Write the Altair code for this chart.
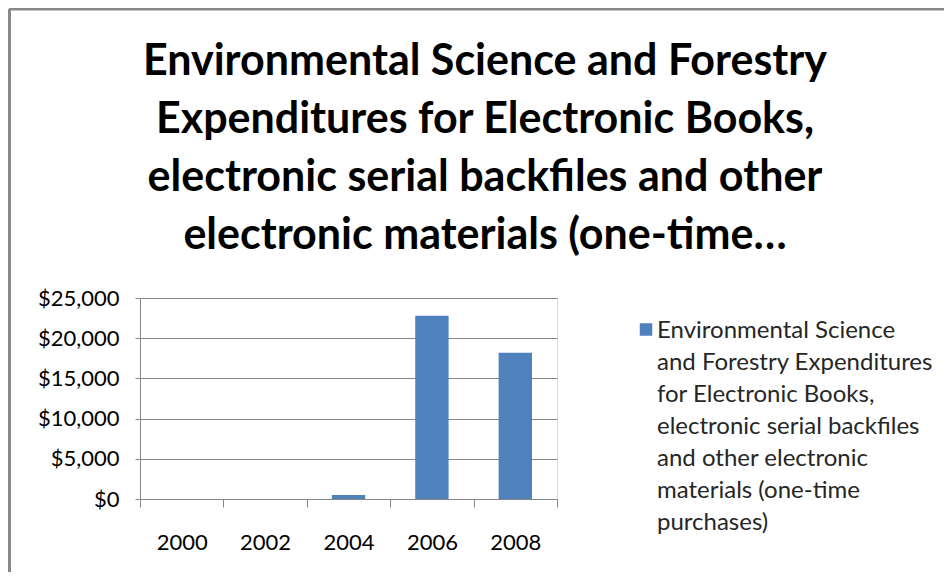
import altair as alt
import pandas as pd

years = ["2000", "2002", "2004", "2006", "2008"]
expenditures = [0, 0, 500, 22800, 18200]
y_ticks = [0, 5000, 10000, 15000, 20000, 25000]
title_lines = [
    "Environmental Science and Forestry",
    "Expenditures for Electronic Books,",
    "electronic serial backfiles and other",
    "electronic materials (one-time\u2026",
]
legend_lines = [
    "Environmental Science",
    "and Forestry Expenditures",
    "for Electronic Books,",
    "electronic serial backfiles",
    "and other electronic",
    "materials (one-time",
    "purchases)",
]

BLUE = "#4F81BD"
GRAY = "#868686"
FONT = "Lato"

df = pd.DataFrame({"year": years, "value": expenditures})
legend_df = pd.DataFrame({"label": ["\n".join(legend_lines)]})
title_df = pd.DataFrame({"label": ["\n".join(title_lines)]})

bars = alt.Chart(df).mark_bar(color=BLUE, width=alt.RelativeBandSize(0.4)).encode(
    x=alt.X(
        "year:N",
        sort=years,
        scale=alt.Scale(paddingInner=0, paddingOuter=0),
        axis=alt.Axis(
            title=None, labelAngle=0, tickBand="extent", tickSize=8,
            labelPadding=25, domainColor=GRAY, tickColor=GRAY,
            labelFontSize=22, labelFont=FONT, labelColor="#000", grid=False,
        ),
    ),
    y=alt.Y(
        "value:Q",
        scale=alt.Scale(domain=[0, 25000], nice=False),
        axis=alt.Axis(
            title=None, values=y_ticks, format="$,.0f", tickSize=5,
            labelPadding=16, gridColor=GRAY, domainColor=GRAY, tickColor=GRAY,
            labelFontSize=22, labelFont=FONT, labelColor="#000",
        ),
    ),
)

title_text = alt.Chart(title_df).mark_text(
    align="center", baseline="alphabetic", lineBreak="\n", lineHeight=58,
    font=FONT, fontSize=43, fontWeight="bold", color="#000"
).encode(text="label:N", x=alt.value(345), y=alt.value(-223))

legend_square = alt.Chart(legend_df).mark_square(
    size=156, color=BLUE, opacity=1
).encode(x=alt.value(506), y=alt.value(31.5))

legend_text = alt.Chart(legend_df).mark_text(
    align="left", baseline="alphabetic", lineBreak="\n", lineHeight=32,
    font=FONT, fontSize=24, color="#262626"
).encode(text="label:N", x=alt.value(517), y=alt.value(40))

border_top = alt.Chart(legend_df).mark_rule(color="#888", strokeWidth=3).encode(
    x=alt.value(-131), x2=alt.value(804), y=alt.value(-289)
)
border_left = alt.Chart(legend_df).mark_rule(color="#888", strokeWidth=3).encode(
    x=alt.value(-130.5), y=alt.value(-289), y2=alt.value(274)
)

chart = alt.layer(
    bars, title_text, legend_square, legend_text, border_top, border_left
).properties(
    width=417,
    height=201,
    autosize=alt.AutoSizeParams(type="none"),
    padding={"left": 132, "top": 290, "right": 387, "bottom": 81},
).configure_view(stroke=None).configure(background="white")

chart.save("out.html", embed_options={"renderer": "svg", "actions": False})
